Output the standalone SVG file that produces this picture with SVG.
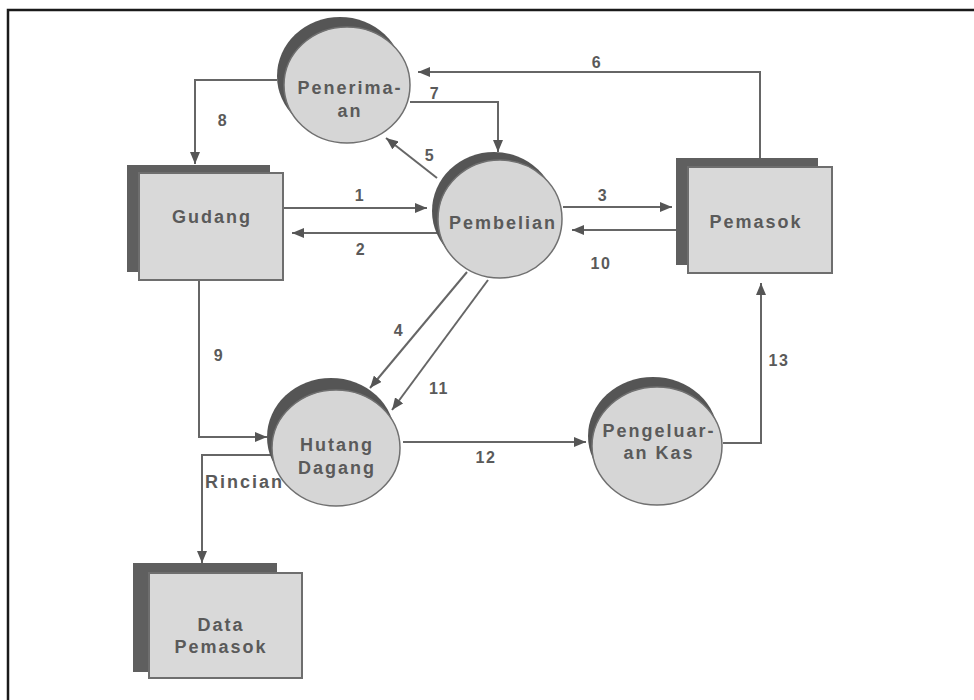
<svg xmlns="http://www.w3.org/2000/svg" width="974" height="700" viewBox="0 0 974 700">
  <style>
    .frame { stroke: #1a1a1a; stroke-width: 2.5; fill: none; }
    .back { fill: #5f5f5f; }
    .front { fill: #d9d9d9; stroke: #6e6e6e; stroke-width: 2; }
    .shade { fill: #555555; }
    .disc { fill: #d6d6d6; stroke: #707070; stroke-width: 1.5; }
    .lbl { font-family: "Liberation Sans", Arial, sans-serif; font-weight: bold; font-size: 18px; letter-spacing: 2px; fill: #5a5a5a; text-anchor: middle; }
    .num { font-family: "Liberation Sans", Arial, sans-serif; font-weight: bold; font-size: 16px; letter-spacing: 1.5px; fill: #5a5a5a; text-anchor: middle; }
    .flow { stroke: #666666; stroke-width: 2; fill: none; marker-end: url(#arrow); }
  </style>
  <defs>
    <marker id="arrow" viewBox="0 0 12 10" refX="12" refY="5" markerWidth="12" markerHeight="10" markerUnits="userSpaceOnUse" orient="auto">
      <path d="M0,0 L12,5 L0,10 z" fill="#555555"/>
    </marker>
  </defs>

  <rect width="974" height="700" fill="#ffffff"/>
  <!-- page frame: top and left rules -->
  <path class="frame" d="M8,700 V10 H974"/>

  <!-- data flows -->
  <g id="connectors">
    <path class="flow" d="M283,208 H427"/>
    <path class="flow" d="M437,233 H292"/>
    <path class="flow" d="M563,207 H672"/>
    <path class="flow" d="M676,230 H572"/>
    <path class="flow" d="M467,272 L370,388"/>
    <path class="flow" d="M488,280 L392,410"/>
    <path class="flow" d="M437,178 L386,138"/>
    <path class="flow" d="M760,158 V72 H418"/>
    <path class="flow" d="M410,102 H498 V152"/>
    <path class="flow" d="M277,80 H195 V164"/>
    <path class="flow" d="M199,280 V437 H267"/>
    <path class="flow" d="M403,442 H586"/>
    <path class="flow" d="M723,443 H761 V283"/>
    <path class="flow" d="M272,455 H202 V563"/>

    <text class="num" x="360" y="201">1</text>
    <text class="num" x="361" y="255">2</text>
    <text class="num" x="603" y="201">3</text>
    <text class="num" x="399" y="336">4</text>
    <text class="num" x="430" y="161">5</text>
    <text class="num" x="597" y="68">6</text>
    <text class="num" x="435" y="99">7</text>
    <text class="num" x="223" y="126">8</text>
    <text class="num" x="219" y="361">9</text>
    <text class="num" x="601" y="269">10</text>
    <text class="num" x="439" y="394">11</text>
    <text class="num" x="486" y="463">12</text>
    <text class="num" x="779" y="366">13</text>
    <text class="lbl" x="205" y="488" style="text-anchor:start">Rincian</text>
  </g>

  <g id="penerimaan">
    <ellipse class="shade" cx="340" cy="76" rx="63" ry="59"/>
    <ellipse class="disc" cx="347" cy="85" rx="63" ry="58"/>
    <text class="lbl" x="350" y="94">Penerima-</text>
    <text class="lbl" x="350" y="117">an</text>
  </g>

  <g id="pembelian">
    <ellipse class="shade" cx="494" cy="211" rx="62" ry="59"/>
    <ellipse class="disc" cx="500" cy="219" rx="62" ry="59"/>
    <text class="lbl" x="503" y="229">Pembelian</text>
  </g>

  <g id="hutang-dagang">
    <ellipse class="shade" cx="331" cy="437" rx="64" ry="59"/>
    <ellipse class="disc" cx="336" cy="448" rx="64" ry="58"/>
    <text class="lbl" x="337" y="451">Hutang</text>
    <text class="lbl" x="337" y="474">Dagang</text>
  </g>

  <g id="pengeluaran-kas">
    <ellipse class="shade" cx="653" cy="436" rx="65" ry="59"/>
    <ellipse class="disc" cx="657" cy="446" rx="65" ry="59"/>
    <text class="lbl" x="659" y="437">Pengeluar-</text>
    <text class="lbl" x="659" y="459">an Kas</text>
  </g>

  <g id="gudang">
    <rect class="back" x="127" y="165" width="143" height="107"/>
    <rect class="front" x="139" y="173" width="144" height="107"/>
    <text class="lbl" x="212" y="223">Gudang</text>
  </g>

  <g id="pemasok">
    <rect class="back" x="676" y="158" width="142" height="107"/>
    <rect class="front" x="688" y="167" width="144" height="106"/>
    <text class="lbl" x="756" y="228">Pemasok</text>
  </g>

  <g id="data-pemasok">
    <rect class="back" x="133" y="563" width="144" height="109"/>
    <rect class="front" x="149" y="573" width="153" height="105"/>
    <text class="lbl" x="221" y="631">Data</text>
    <text class="lbl" x="221" y="653">Pemasok</text>
  </g>
</svg>
